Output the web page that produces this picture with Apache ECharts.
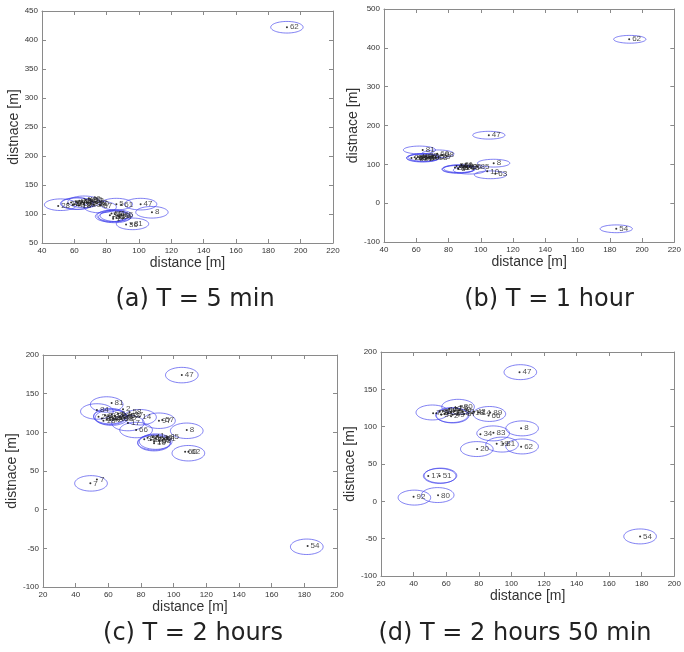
<!DOCTYPE html>
<html>
<head>
<meta charset="utf-8">
<script src="https://cdn.jsdelivr.net/npm/echarts@6/dist/echarts.min.js"></script>
<style>html,body{margin:0;padding:0;background:#fff}#c{width:684px;height:652px}</style>
</head>
<body>
<div id="c"></div>
<script>
// ---------- data ----------
const captions = ['(a) T = 5 min', '(b) T = 1 hour', '(c) T = 2 hours', '(d) T = 2 hours 50 min'];
const xTitle = 'distance [m]';
const yTitle = 'distnace [m]';
const RING_RADIUS = 10; // metres

const xRangeA = [40, 220, 20], yRangeA = [50, 450, 50];
const xRangeB = [40, 220, 20], yRangeB = [-100, 500, 100];
const xRangeC = [20, 200, 20], yRangeC = [-100, 200, 50];
const xRangeD = [20, 200, 20], yRangeD = [-100, 200, 50];

// points [x, y, label]
const pointsA = [
  [191.5,422,'62'],[101,117,'47'],[108,103,'8'],[92,82,'36'],[95,83,'81'],[50,114,'28'],[86,117,'5'],[89,116,'61'],
  [56,118,'15'],[58,120,'27'],[60,117,'3'],[61,121,'44'],[62,119,'9'],[63,123,'12'],[64,118,'33'],[65,121,'40'],
  [66,116,'22'],[67,124,'49'],[68,120,'6'],[69,127,'46'],[70,118,'25'],[71,122,'13'],[72,116,'39'],[73,120,'52'],
  [74,118,'30'],[76,115,'37'],[63,115,'18'],[59,116,'42'],[66,119,'2'],[70,125,'60'],
  [82,98,'31'],[84,95,'35'],[85,100,'11'],[86,93,'4'],[87,97,'19'],[88,95,'24'],[84,92,'1'],[83,101,'57'],[89,99,'65']
];
const ringsA = [
  [191.5,422],[101,117],[108,103],[96,83],[51.5,116],[86,117],[61.4,118],[62,118],[66,121],[76,112],
  [83,96],[84,97],[85,95],[86,97]
];

const pointsB = [
  [192,422,'62'],[105,175,'47'],[108,103,'8'],[104,82,'10'],[109,76,'63'],[184,-66,'54'],[64,137,'81'],
  [73,127,'60'],[76,124,'68'],[98,94,'85'],
  [57,116,'28'],[59,118,'15'],[60,115,'3'],[61,119,'44'],[62,117,'9'],[63,120,'12'],[64,116,'33'],[65,118,'40'],
  [66,121,'22'],[67,117,'49'],[68,119,'6'],[70,120,'25'],[72,118,'13'],[74,119,'39'],[63,114,'27'],[66,114,'2'],
  [84,92,'31'],[85,96,'35'],[86,90,'11'],[87,94,'4'],[88,97,'19'],[89,91,'24'],[90,95,'1'],[91,93,'57'],
  [92,90,'65'],[93,94,'36'],[86,88,'5'],[88,99,'61']
];
const ringsB = [
  [192.4,422],[105,175],[108,103],[106,73],[184,-66],[62,137],[73.4,127],
  [64,117],[64,116],[65,118],[86,88],[86,87],[87,89],[93,85]
];

const pointsC = [
  [105,174,'47'],[62,138,'81'],[53,129,'84'],[69,130,'2'],[73,126,'58'],[79,120,'14'],[72,112,'17'],[77,103,'66'],
  [91,115,'97'],[93,116,'57'],[108,103,'8'],[107,75,'60'],[109,75,'62'],[96,94,'85'],[49,34,'7'],[53,39,'7'],
  [182,-47,'54'],
  [54,120,'28'],[56,118,'15'],[58,122,'3'],[59,117,'44'],[60,121,'9'],[61,119,'12'],[62,123,'33'],[63,118,'40'],
  [64,121,'22'],[65,117,'49'],[66,124,'6'],[67,120,'25'],[68,118,'13'],[69,122,'39'],[70,119,'30'],[72,121,'52'],
  [74,123,'37'],[57,115,'18'],[61,116,'42'],
  [82,91,'31'],[84,93,'35'],[86,90,'11'],[87,94,'4'],[88,88,'19'],[89,92,'24'],[90,95,'1'],[91,89,'65'],
  [92,93,'36'],[93,90,'5'],[94,92,'61'],[88,86,'10']
];
const ringsC = [
  [105,174],[59,136],[53,127],[61,120],[61,121],[62,119],[79.4,119.5],[72,112],[77,103],[91,115],
  [108,102],[109,73],[88,87],[88,86],[89,88],[49.4,34],[181.5,-48]
];

const pointsD = [
  [105,173,'47'],[106,98,'8'],[81,90,'34'],[89,92,'83'],[79,70,'20'],[91,77,'19'],[95,77,'81'],[106,73,'62'],
  [49,34,'17'],[56,34,'51'],[40,6,'92'],[55,8,'80'],[179,-47,'54'],[80,119,'14'],[87,119,'89'],[86,115,'66'],
  [52,118,'7'],
  [54,118,'28'],[56,120,'15'],[57,116,'3'],[58,121,'44'],[59,117,'9'],[60,122,'12'],[61,118,'33'],[62,124,'40'],
  [63,119,'22'],[64,116,'49'],[65,121,'6'],[66,125,'25'],[67,118,'13'],[68,122,'39'],[69,127,'30'],[70,120,'52'],
  [71,117,'37'],[76,118,'18'],[77,120,'42'],[63,114,'2']
];
const ringsD = [
  [105.5,173],[106.6,97.7],[88.8,91],[78.8,70],[94.3,76],[106.6,73.5],[56,34],[56.5,34.5],[40.5,5],[54.8,8.4],
  [179,-47],[51.5,119],[67.3,126.6],[63.5,115.5],[64,115],[86.5,117]
];

// ---------- layout ----------
const grids = [
  {left:42, top:11, width:291, height:232},
  {left:384, top:9, width:295, height:233},
  {left:43, top:355, width:294, height:232},
  {left:381, top:352, width:301, height:224}
];
const xNameGap = [10, 11, 10, 6];
const yNameGap = [18, 20, 13, 12];
const captionPos = [[195,300],[549,300],[193,634],[515,634]];
const xRanges = [xRangeA, xRangeB, xRangeC, xRangeD];
const yRanges = [yRangeA, yRangeB, yRangeC, yRangeD];
const pointSets = [pointsA, pointsB, pointsC, pointsD];
const ringSets = [ringsA, ringsB, ringsC, ringsD];

const axisColor = '#8a8a8a';
const labelStyle = {fontSize:8, color:'#333', fontFamily:'Liberation Sans', margin:4, showMinLabel:true, showMaxLabel:true};

const xAxes = [], yAxes = [], series = [];
for (let i = 0; i < 4; i++) {
  const xr = xRanges[i], yr = yRanges[i];
  const common = (r) => ({type:'value', min:r[0], max:r[1], interval:r[2], splitLine:{show:false},
    axisLine:{show:true, onZero:false, lineStyle:{color:axisColor, width:1}},
    axisTick:{show:true, inside:true, length:4, lineStyle:{color:axisColor}}});
  xAxes.push(Object.assign(common(xr), {gridIndex:i, position:'bottom', axisLabel:Object.assign({}, labelStyle),
    name:xTitle, nameLocation:'middle', nameGap:xNameGap[i],
    nameTextStyle:{fontSize:14, color:'#333', fontFamily:'Liberation Sans', verticalAlign:'top'}}));
  xAxes.push(Object.assign(common(xr), {gridIndex:i, position:'top', axisLabel:{show:false}}));
  yAxes.push(Object.assign(common(yr), {gridIndex:i, position:'left', axisLabel:Object.assign({}, labelStyle),
    name:yTitle, nameLocation:'middle', nameGap:yNameGap[i],
    nameTextStyle:{fontSize:14, color:'#333', fontFamily:'Liberation Sans', verticalAlign:'bottom'}}));
  yAxes.push(Object.assign(common(yr), {gridIndex:i, position:'right', axisLabel:{show:false}}));

  series.push({
    type:'custom', coordinateSystem:'cartesian2d', xAxisIndex:2*i, yAxisIndex:2*i,
    data: ringSets[i], silent:true, clip:true,
    renderItem: function (params, api) {
      const cx = api.value(0), cy = api.value(1);
      const pts = [];
      for (let k = 0; k < 64; k++) {
        const t = k / 64 * 2 * Math.PI;
        pts.push(api.coord([cx + RING_RADIUS * Math.cos(t), cy + RING_RADIUS * Math.sin(t)]));
      }
      return {type:'polygon', shape:{points:pts}, style:{fill:'none', stroke:'rgba(60,60,235,0.65)', lineWidth:1}};
    }
  });
  series.push({
    type:'scatter', xAxisIndex:2*i, yAxisIndex:2*i, symbolSize:2, silent:true,
    itemStyle:{color:'#000'},
    data: pointSets[i].map(p => ({value:[p[0], p[1]], name:p[2]})),
    label:{show:true, position:'right', distance:2, formatter:'{b}', fontSize:8, color:'#222', fontFamily:'Liberation Sans'},
    labelLayout:{hideOverlap:false}
  });
}

const graphics = captions.map((c, i) => ({
  type:'text', x:captionPos[i][0], y:captionPos[i][1],
  style:{text:c, fill:'#222', font:'24px "DejaVu Sans"', textAlign:'center', textVerticalAlign:'middle'}
}));

const chart = echarts.init(document.getElementById('c'), null, {renderer:'canvas'});
chart.setOption({
  animation:false,
  backgroundColor:'#fff',
  grid: grids.map(g => Object.assign({containLabel:false}, g)),
  xAxis: xAxes,
  yAxis: yAxes,
  series: series,
  graphic: graphics
});
</script>
</body>
</html>
